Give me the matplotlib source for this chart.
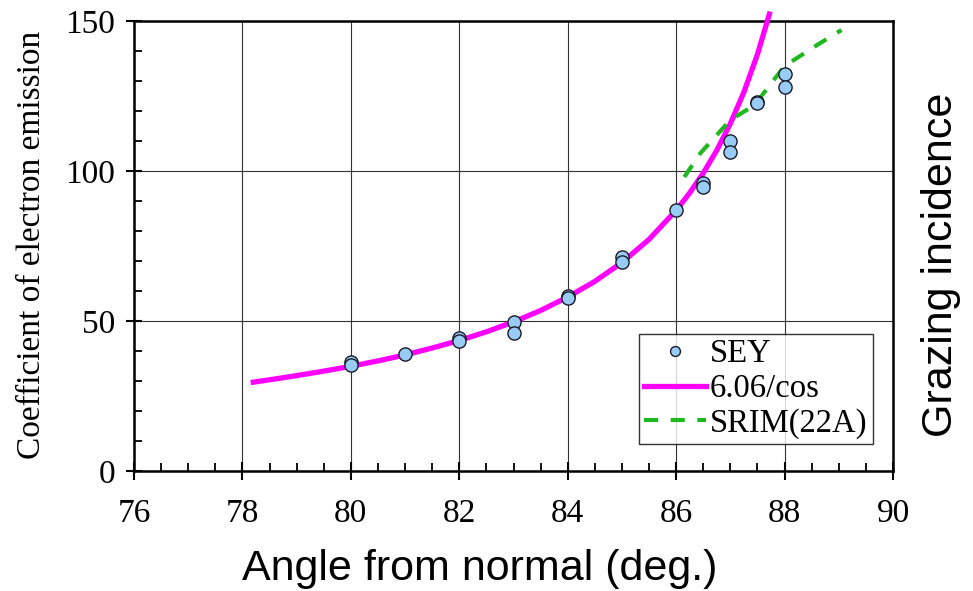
import numpy as np
import matplotlib.pyplot as plt
from matplotlib.ticker import MultipleLocator

# measured secondary electron yield (two shots per angle where available)
sey_angle = [80, 80, 81, 82, 82, 83, 83, 84, 84, 85, 85, 86,
             86.5, 86.5, 87, 87, 87.5, 87.5, 88, 88]
sey_value = [36.3, 35.3, 39.0, 44.3, 43.4, 49.6, 46.0, 58.2, 57.7, 71.3, 69.7, 87.0,
             96.1, 94.7, 110.1, 106.3, 123.1, 122.6, 132.4, 128.1]

# 6.06/cos curve, sampled
cos_angle = [78.2, 78.5, 79, 79.5, 80, 80.5, 81, 81.5, 82, 82.5, 83, 83.5,
             84, 84.5, 85, 85.5, 86, 86.25, 86.5, 86.75, 87, 87.25, 87.5, 87.72]
cos_value = [29.6, 30.4, 31.8, 33.3, 34.9, 36.7, 38.7, 41.0, 43.5, 46.4, 49.7, 53.5,
             58.0, 63.2, 69.5, 77.2, 86.9, 92.7, 99.3, 106.9, 115.8, 126.3, 138.9, 152.3]

# SRIM calculation, 22 A
srim_angle = [86.15, 86.45, 86.7, 87.0, 87.45, 87.7, 88.0, 88.3, 88.6, 89.05]
srim_value = [98, 106, 111, 117, 122, 128, 135, 138.5, 142, 147]

serif = 'Liberation Serif'
sans = 'Liberation Sans'
W, H = 973, 591

fig = plt.figure(figsize=(W / 100, H / 100), dpi=100)
ax = fig.add_axes([134 / W, 120 / H, 759 / W, 450 / H])

ax.plot(cos_angle, cos_value, color='#ff00ff', lw=3.8, label='6.06/cos',
        clip_on=False, zorder=3)
ax.plot(srim_angle, srim_value, color='#1fb81f', lw=3.0, ls=(0, (3.4, 3)),
        label='SRIM(22A)', zorder=3)
ax.plot(sey_angle, sey_value, 'o', ms=9.5, mfc='#99ccf5', mec='#1a1a2a', mew=1.0,
        label='SEY', zorder=4)

ax.set_xlim(76, 90)
ax.set_ylim(0, 150)
ax.xaxis.set_major_locator(MultipleLocator(2))
ax.xaxis.set_minor_locator(MultipleLocator(0.5))
ax.yaxis.set_major_locator(MultipleLocator(50))
ax.yaxis.set_minor_locator(MultipleLocator(10))
ax.grid(True, which='major', color='#333333', lw=0.8)

ax.tick_params(axis='x', which='major', direction='inout', length=13, width=1.5, pad=13.5)
ax.tick_params(axis='y', which='major', direction='inout', length=11, width=1.5, pad=8)
ax.tick_params(which='minor', direction='in', length=5.5, width=1.3)
for lab in ax.get_xticklabels() + ax.get_yticklabels():
    lab.set_fontfamily(serif)
    lab.set_fontsize(24)
for sp in ax.spines.values():
    sp.set_linewidth(1.8)

# axis titles placed as figure text
fig.text(480 / W, 1 - 580 / H, 'Angle from normal (deg.)', family=sans, fontsize=31,
         ha='center', va='baseline')
fig.text(32 / W, 1 - 245 / H, 'Coefficient of electron emission', family=serif,
         fontsize=24, rotation=90, ha='center', va='center')
fig.text(941 / W, 1 - 265 / H, 'Grazing incidence', family=sans, fontsize=31,
         rotation=90, ha='center', va='center')

handles, labels = ax.get_legend_handles_labels()
order = [2, 0, 1]
leg = ax.legend([handles[i] for i in order], [labels[i] for i in order],
                loc='lower right', bbox_to_anchor=(0.973, 0.06),
                prop={'family': serif, 'size': 23.5}, frameon=True, fancybox=False,
                edgecolor='black', handlelength=1.9, handletextpad=0.12,
                labelspacing=0.13, borderpad=0.15, borderaxespad=0, markerscale=0.75)
leg.get_frame().set_linewidth(1.0)

fig.savefig('out.png', dpi=100)
